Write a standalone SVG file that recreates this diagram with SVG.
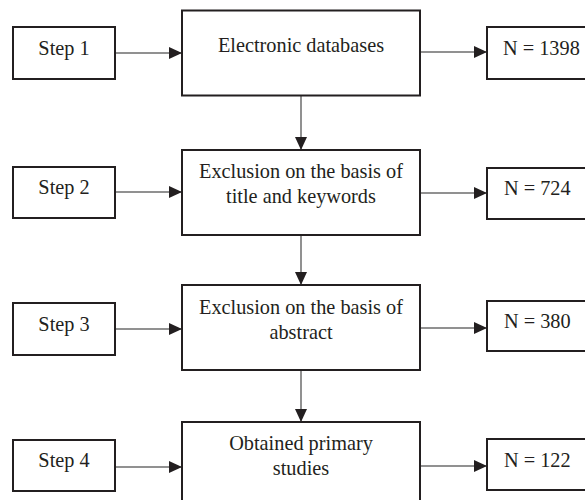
<svg xmlns="http://www.w3.org/2000/svg" width="585" height="500" viewBox="0 0 585 500">
<style>
.box{fill:#fff;stroke:#231f20;stroke-width:2}
.t{font-family:"Liberation Serif","Times New Roman",serif;font-size:20.3px;fill:#231f20}
.m{text-anchor:middle}
.c{stroke:#6d6d6d;stroke-width:1.5;fill:none;marker-end:url(#ah)}
</style>
<defs>
<marker id="ah" markerUnits="userSpaceOnUse" markerWidth="14" markerHeight="12" refX="13" refY="6" orient="auto">
<path d="M0,0 L13,6 L0,12 Z" fill="#231f20"/>
</marker>
</defs>
<rect width="585" height="500" fill="#fff"/>
<g id="connectors">
<line class="c" x1="115" y1="53" x2="182" y2="53"/>
<line class="c" x1="420" y1="52" x2="487" y2="52"/>
<line class="c" x1="301" y1="96" x2="301" y2="150"/>
<line class="c" x1="115" y1="192" x2="182" y2="192"/>
<line class="c" x1="420" y1="193" x2="487" y2="193"/>
<line class="c" x1="301" y1="236" x2="301" y2="285"/>
<line class="c" x1="115" y1="329" x2="182" y2="329"/>
<line class="c" x1="420" y1="328" x2="487" y2="328"/>
<line class="c" x1="301" y1="371" x2="301" y2="422"/>
<line class="c" x1="115" y1="467" x2="182" y2="467"/>
<line class="c" x1="420" y1="466" x2="487" y2="466"/>
</g>
<g id="step1"><rect class="box" x="13" y="27" width="102" height="52"/><text class="t m" x="64" y="55">Step 1</text></g>
<g id="db"><rect class="box" x="182" y="10.5" width="238" height="85"/><text class="t m" x="301" y="52">Electronic databases</text></g>
<g id="n1398"><rect class="box" x="487" y="27" width="104" height="52"/><text class="t" x="503" y="55">N = 1398</text></g>
<g id="step2"><rect class="box" x="13" y="167" width="102" height="51"/><text class="t m" x="64" y="194">Step 2</text></g>
<g id="title"><rect class="box" x="182" y="150" width="238" height="85"/><text class="t m" x="301" y="178">Exclusion on the basis of</text><text class="t m" x="301" y="203">title and keywords</text></g>
<g id="n724"><rect class="box" x="487" y="168" width="104" height="51"/><text class="t" x="504" y="195">N = 724</text></g>
<g id="step3"><rect class="box" x="13" y="303" width="102" height="52"/><text class="t m" x="64" y="331">Step 3</text></g>
<g id="abstract"><rect class="box" x="182" y="285" width="238" height="85"/><text class="t m" x="301" y="314">Exclusion on the basis of</text><text class="t m" x="301" y="339">abstract</text></g>
<g id="n380"><rect class="box" x="487" y="301" width="104" height="50"/><text class="t" x="504" y="328">N = 380</text></g>
<g id="step4"><rect class="box" x="13" y="440" width="102" height="51"/><text class="t m" x="64" y="467">Step 4</text></g>
<g id="primary"><rect class="box" x="182" y="422" width="238" height="90"/><text class="t m" x="301" y="450">Obtained primary</text><text class="t m" x="301" y="475">studies</text></g>
<g id="n122"><rect class="box" x="487" y="439" width="104" height="51"/><text class="t" x="504" y="467">N = 122</text></g>
</svg>
